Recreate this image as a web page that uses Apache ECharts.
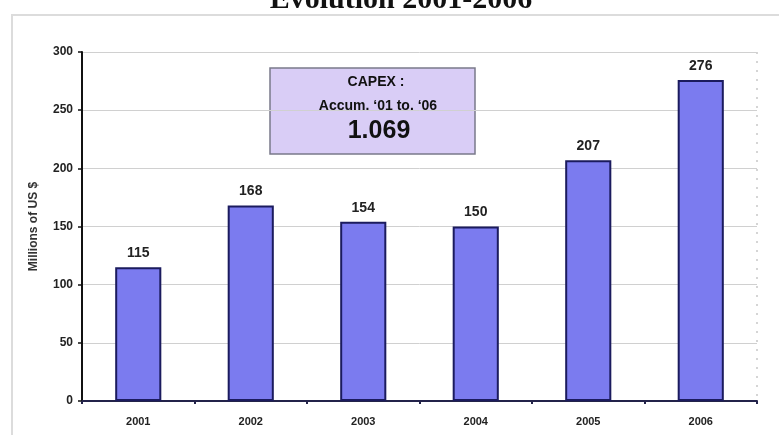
<!DOCTYPE html>
<html>
<head>
<meta charset="utf-8">
<script src="https://cdn.jsdelivr.net/npm/echarts@6/dist/echarts.min.js"></script>
<style>
  html, body { margin: 0; padding: 0; background: #fff; }
  #chart { width: 779px; height: 435px; }
</style>
</head>
<body>
<div id="chart"></div>
<script>
// CAPEX evolution 2001-2006 (millions of US $)
const years = ['2001', '2002', '2003', '2004', '2005', '2006'];
const capex = [115, 168, 154, 150, 207, 276];
const yTicks = { min: 0, max: 300, interval: 50 };

const chart = echarts.init(document.getElementById('chart'));

const option = {
  animation: false,
  backgroundColor: '#fff',
  grid: { left: 82, right: 22, top: 52, bottom: 34 },
  xAxis: {
    type: 'category',
    data: years,
    boundaryGap: true,
    axisLine: { lineStyle: { color: '#23234a', width: 2 } },
    axisTick: { show: true, length: 3, lineStyle: { color: '#23234a', width: 2 } },
    axisLabel: {
      color: '#222',
      fontSize: 11,
      fontWeight: 'bold',
      fontFamily: 'Liberation Sans, Arial, sans-serif',
      margin: 15
    },
    splitLine: { show: false }
  },
  yAxis: {
    type: 'value',
    min: yTicks.min,
    max: yTicks.max,
    interval: yTicks.interval,
    name: 'Millions of US $',
    nameLocation: 'middle',
    nameGap: 42,
    nameRotate: 90,
    nameTextStyle: {
      color: '#333',
      fontSize: 12,
      fontWeight: 'bold',
      fontFamily: 'Liberation Sans, Arial, sans-serif'
    },
    axisLine: { show: true, lineStyle: { color: '#111', width: 2 } },
    axisTick: { show: true, length: 4, lineStyle: { color: '#111', width: 1.5 } },
    axisLabel: {
      color: '#222',
      fontSize: 12,
      fontWeight: 'bold',
      fontFamily: 'Liberation Sans Narrow, Liberation Sans, Arial, sans-serif',
      margin: 9
    },
    splitLine: { lineStyle: { color: '#d0d0d0', width: 1 } }
  },
  series: [{
    type: 'bar',
    data: capex,
    barWidth: '41%',
    itemStyle: {
      color: '#7b7bef',
      borderColor: '#1b1b5e',
      borderWidth: 2
    },
    label: {
      show: true,
      position: 'top',
      distance: 7,
      color: '#222',
      fontSize: 14,
      fontWeight: 'bold',
      fontFamily: 'Liberation Sans, Arial, sans-serif'
    }
  }],
  graphic: [
    // outer frame of the pasted slide
    {
      type: 'rect',
      shape: { x: 12, y: 15, width: 800, height: 440 },
      style: { fill: 'none', stroke: '#dcdcdc', lineWidth: 2 },
      z: -10
    },
    // title, cut off at the top
    {
      type: 'text',
      style: {
        x: 401, y: 0,
        text: 'Evolution 2001-2006',
        textAlign: 'center',
        textVerticalAlign: 'middle',
        font: 'bold 30px "Liberation Serif", "DejaVu Serif", serif',
        fill: '#111'
      }
    },
    // plot right border (dotted)
    {
      type: 'line',
      shape: { x1: 757, y1: 52, x2: 757, y2: 400 },
      style: { stroke: '#c8c8c8', lineWidth: 1.5, lineDash: [2, 7] },
      z: -5
    },
    // CAPEX box
    {
      type: 'group',
      children: [
        {
          type: 'rect',
          shape: { x: 270, y: 68, width: 205, height: 86 },
          style: { fill: '#d9cdf6', stroke: '#7a7a8a', lineWidth: 1.5 }
        },
        {
          type: 'text',
          style: {
            x: 376, y: 82, text: 'CAPEX :', textAlign: 'center', textVerticalAlign: 'middle',
            font: 'bold 14px "Liberation Sans", Arial, sans-serif', fill: '#111'
          }
        },
        {
          type: 'text',
          style: {
            x: 378, y: 106, text: 'Accum. \u201801 to. \u201806', textAlign: 'center', textVerticalAlign: 'middle',
            font: 'bold 14px "Liberation Sans", Arial, sans-serif', fill: '#111'
          }
        },
        {
          type: 'text',
          style: {
            x: 379, y: 131, text: '1.069', textAlign: 'center', textVerticalAlign: 'middle',
            font: 'bold 25px "Liberation Sans", Arial, sans-serif', fill: '#111'
          }
        }
      ]
    }
  ]
};

chart.setOption(option);
</script>
</body>
</html>
